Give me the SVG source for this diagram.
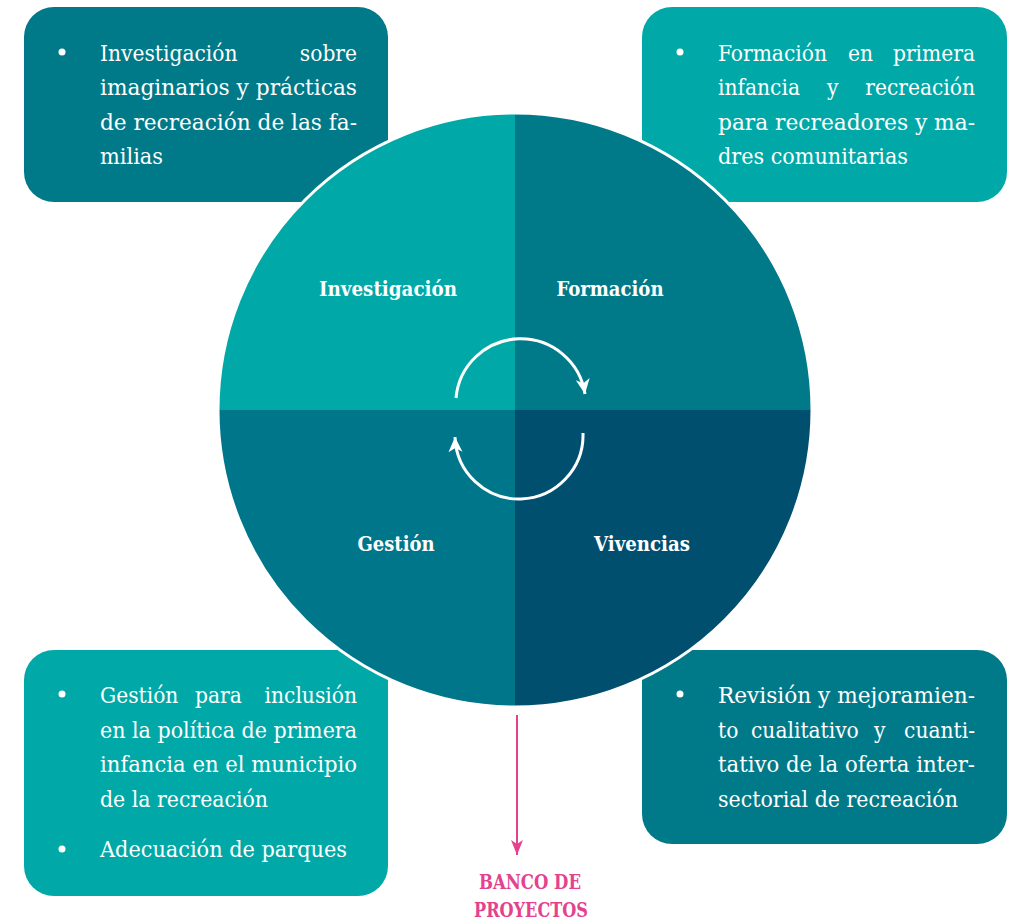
<svg xmlns="http://www.w3.org/2000/svg" width="1024" height="921" viewBox="0 0 1024 921">
<style>
.body{font-family:"DejaVu Serif Condensed","DejaVu Serif","Liberation Serif",serif;font-size:22.5px;fill:#ffffff}
.lbl{font-family:"DejaVu Serif Condensed","DejaVu Serif","Liberation Serif",serif;font-size:20px;font-weight:bold;fill:#ffffff;text-anchor:middle}
.pink{font-family:"DejaVu Serif Condensed","DejaVu Serif","Liberation Serif",serif;font-size:21px;font-weight:bold;fill:#E4428E;text-anchor:middle}
.light{fill:#00A9A7}
.mid{fill:#007A89}
.dark{fill:#004F6E}
.arc{fill:none;stroke:#ffffff;stroke-width:3}
.end{text-anchor:end}
</style>
<defs>
<marker id="wh" viewBox="-16 -9 18 18" refX="0" refY="0" markerWidth="18" markerHeight="18" markerUnits="userSpaceOnUse" orient="auto">
<path d="M0,0 L-15,-7 L-11,0 L-15,7 Z" fill="#ffffff"/>
</marker>
<marker id="pk" viewBox="-16 -9 18 18" refX="0" refY="0" markerWidth="18" markerHeight="18" markerUnits="userSpaceOnUse" orient="auto">
<path d="M0,0 L-15,-6 L-11,0 L-15,6 Z" fill="#E4428E"/>
</marker>
</defs>

<g id="box-investigacion">
<rect x="24" y="7" width="364" height="195" rx="30" class="mid"/>
<circle cx="62" cy="52" r="3.5" fill="#fff"/>
<text class="body" y="61"><tspan x="100">Investigación</tspan><tspan x="357" class="end">sobre</tspan></text>
<text class="body" x="100" y="95" textLength="257" lengthAdjust="spacingAndGlyphs">imaginarios y prácticas</text>
<text class="body" x="100" y="130" textLength="257" lengthAdjust="spacingAndGlyphs">de recreación de las fa-</text>
<text class="body" x="100" y="164" textLength="63" lengthAdjust="spacingAndGlyphs">milias</text>
</g>

<g id="box-formacion">
<rect x="642" y="7" width="365" height="195" rx="30" class="light"/>
<circle cx="680" cy="52" r="3.5" fill="#fff"/>
<text class="body" y="61"><tspan x="718">Formación</tspan><tspan x="848">en</tspan><tspan x="975" class="end">primera</tspan></text>
<text class="body" y="95"><tspan x="718">infancia</tspan><tspan x="827">y</tspan><tspan x="975" class="end">recreación</tspan></text>
<text class="body" x="718" y="130" textLength="257" lengthAdjust="spacingAndGlyphs">para recreadores y ma-</text>
<text class="body" x="718" y="164" textLength="190" lengthAdjust="spacingAndGlyphs">dres comunitarias</text>
</g>

<g id="box-gestion">
<rect x="24" y="650" width="364" height="246" rx="30" class="light"/>
<circle cx="62" cy="694" r="3.5" fill="#fff"/>
<text class="body" y="703"><tspan x="100">Gestión</tspan><tspan x="195">para</tspan><tspan x="357" class="end">inclusión</tspan></text>
<text class="body" x="100" y="738" textLength="257" lengthAdjust="spacingAndGlyphs">en la política de primera</text>
<text class="body" x="100" y="772" textLength="257" lengthAdjust="spacingAndGlyphs">infancia en el municipio</text>
<text class="body" x="100" y="807" textLength="168" lengthAdjust="spacingAndGlyphs">de la recreación</text>
<circle cx="62" cy="849" r="3.5" fill="#fff"/>
<text class="body" x="100" y="857" textLength="247" lengthAdjust="spacingAndGlyphs">Adecuación de parques</text>
</g>

<g id="box-vivencias">
<rect x="642" y="650" width="365" height="194" rx="30" class="mid"/>
<circle cx="680" cy="694" r="3.5" fill="#fff"/>
<text class="body" x="718" y="703" textLength="257" lengthAdjust="spacingAndGlyphs">Revisión y mejoramien-</text>
<text class="body" y="738"><tspan x="718">to</tspan><tspan x="751">cualitativo</tspan><tspan x="874">y</tspan><tspan x="975" class="end">cuanti-</tspan></text>
<text class="body" x="718" y="772" textLength="257" lengthAdjust="spacingAndGlyphs">tativo de la oferta inter-</text>
<text class="body" x="718" y="807" textLength="240" lengthAdjust="spacingAndGlyphs">sectorial de recreación</text>
</g>

<g id="circle">
<path d="M515,410 L218,410 A297,297 0 0 1 515,113 Z" class="light"/>
<path d="M515,410 L515,113 A297,297 0 0 1 812,410 Z" class="mid"/>
<path d="M515,410 L812,410 A297,297 0 0 1 515,707 Z" class="dark"/>
<path d="M515,410 L515,707 A297,297 0 0 1 218,410 Z" fill="#00768A"/>
<circle cx="515" cy="410" r="297" fill="none" stroke="#ffffff" stroke-width="3"/>
<text class="lbl" x="388" y="296" textLength="138" lengthAdjust="spacingAndGlyphs">Investigación</text>
<text class="lbl" x="610" y="296" textLength="107" lengthAdjust="spacingAndGlyphs">Formación</text>
<text class="lbl" x="396" y="551" textLength="77" lengthAdjust="spacingAndGlyphs">Gestión</text>
<text class="lbl" x="642" y="551" textLength="96" lengthAdjust="spacingAndGlyphs">Vivencias</text>
</g>

<g id="connectors">
<path d="M456,398 A65,65 0 0 1 585,394" class="arc" marker-end="url(#wh)"/>
<path d="M583,433 A64,64 0 0 1 455,437" class="arc" marker-end="url(#wh)"/>
<line x1="517" y1="715" x2="517" y2="855" stroke="#E4428E" stroke-width="2" marker-end="url(#pk)"/>
</g>

<g id="banco">
<text class="pink" x="530" y="889" textLength="102" lengthAdjust="spacingAndGlyphs">BANCO DE</text>
<text class="pink" x="531" y="917" textLength="114" lengthAdjust="spacingAndGlyphs">PROYECTOS</text>
</g>
</svg>
